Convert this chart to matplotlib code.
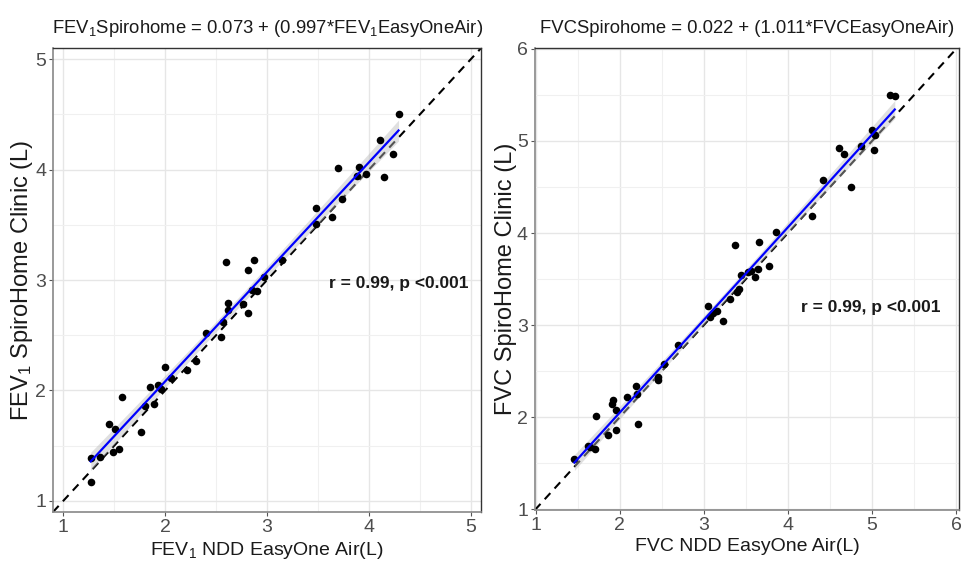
import numpy as np
import matplotlib
matplotlib.use("Agg")
import matplotlib.pyplot as plt
from matplotlib.ticker import MultipleLocator

plt.rcParams['font.family'] = ['Liberation Sans', 'DejaVu Sans']
plt.rcParams['mathtext.default'] = 'regular'

# ---- data: FEV1 ----
fev1_easyone = [1.27, 1.27, 1.36, 1.45, 1.51, 1.49, 1.55, 1.58, 1.76, 1.80, 1.85, 1.89,
                1.93, 1.96, 2.00, 2.06, 2.21, 2.30, 2.40, 2.55, 2.57, 2.60, 2.62, 2.62,
                2.76, 2.81, 2.81, 2.87, 2.85, 2.90, 2.97, 3.15, 3.48, 3.48, 3.64, 3.70,
                3.74, 3.90, 3.88, 3.97, 4.11, 4.15, 4.24, 4.29]
fev1_spirohome = [1.17, 1.39, 1.40, 1.70, 1.65, 1.44, 1.47, 1.94, 1.62, 1.86, 2.03, 1.88,
                  2.05, 2.01, 2.21, 2.11, 2.19, 2.27, 2.52, 2.48, 2.62, 3.16, 2.79, 2.73,
                  2.78, 2.70, 3.09, 3.18, 2.91, 2.90, 3.03, 3.18, 3.65, 3.51, 3.57, 4.01,
                  3.73, 4.02, 3.94, 3.96, 4.27, 3.93, 4.14, 4.50]

# ---- data: FVC ----
fvc_easyone = [1.46, 1.62, 1.65, 1.70, 1.72, 1.86, 1.91, 1.92, 1.95, 1.95, 2.09, 2.19,
               2.20, 2.22, 2.45, 2.46, 2.52, 2.69, 3.05, 3.07, 3.11, 3.15, 3.23, 3.31,
               3.39, 3.42, 3.37, 3.44, 3.52, 3.56, 3.61, 3.64, 3.66, 3.77, 3.86, 4.29,
               4.42, 4.61, 4.67, 4.75, 4.87, 5.00, 5.04, 5.02, 5.21, 5.27]
fvc_spirohome = [1.54, 1.69, 1.67, 1.65, 2.01, 1.81, 2.14, 2.19, 2.08, 1.86, 2.22, 2.34,
                 2.25, 1.92, 2.43, 2.40, 2.58, 2.78, 3.21, 3.09, 3.13, 3.15, 3.04, 3.28,
                 3.36, 3.39, 3.87, 3.54, 3.58, 3.59, 3.52, 3.61, 3.90, 3.64, 4.01, 4.18,
                 4.58, 4.92, 4.86, 4.50, 4.94, 5.12, 5.07, 4.90, 5.50, 5.49]

titles = ['FEV$_1$Spirohome = 0.073 + (0.997*FEV$_1$EasyOneAir)',
          'FVCSpirohome = 0.022 + (1.011*FVCEasyOneAir)']
xlabels = ['FEV$_1$ NDD EasyOne Air(L)', 'FVC NDD EasyOne Air(L)']
ylabels = ['FEV$_1$ SpiroHome Clinic (L)', 'FVC SpiroHome Clinic (L)']
annot = 'r = 0.99, p <0.001'

fig = plt.figure(figsize=(9.62, 5.63), dpi=100)
ax1 = fig.add_axes([0.0551, 0.0906, 0.445, 0.824])
ax2 = fig.add_axes([0.556, 0.0941, 0.441, 0.8206])

specs = [
    (ax1, fev1_easyone, fev1_spirohome, (0.9, 5.1), (0.9, 5.1), (4.29, 2.97)),
    (ax2, fvc_easyone, fvc_spirohome, (0.99, 6.035), (0.99, 6.01), (4.99, 3.19)),
]

for i, (ax, xs, ys, xl, yl, tpos) in enumerate(specs):
    x = np.asarray(xs); y = np.asarray(ys)
    ax.set_xlim(*xl); ax.set_ylim(*yl)
    ax.xaxis.set_major_locator(MultipleLocator(1))
    ax.yaxis.set_major_locator(MultipleLocator(1))
    ax.xaxis.set_minor_locator(MultipleLocator(0.5))
    ax.yaxis.set_minor_locator(MultipleLocator(0.5))
    ax.grid(which='major', color='#e6e6e6', linewidth=1.0, zorder=0)
    ax.grid(which='minor', color='#f0f0f0', linewidth=0.8, zorder=0)
    ax.tick_params(which='minor', length=0)
    ax.tick_params(which='major', length=3, color='#555555', labelsize=14,
                   labelcolor='#4d4d4d', pad=2)
    ax.set_axisbelow(True)

    # identity line
    ax.axline((1, 1), slope=1, color='black', linestyle=(0, (4, 3)), linewidth=1.5, zorder=2)

    # regression with CI
    b, a = np.polyfit(x, y, 1)
    xx = np.linspace(x.min(), x.max(), 100)
    yy = a + b * xx
    n = len(x)
    resid = y - (a + b * x)
    s = np.sqrt(np.sum(resid ** 2) / (n - 2))
    se = s * np.sqrt(1 / n + (xx - x.mean()) ** 2 / np.sum((x - x.mean()) ** 2))
    ax.fill_between(xx, yy - 2.02 * se, yy + 2.02 * se, color='#bbbbbb', alpha=0.45,
                    linewidth=0, zorder=3)
    ax.scatter(x, y, s=30, color='black', zorder=4, linewidths=0)
    ax.plot(xx, yy, color='#0000ff', linewidth=1.6, zorder=5)

    ax.text(tpos[0], tpos[1], annot, ha='center', va='center', fontsize=12.5,
            fontweight='bold', color='#1a1a1a')

    ax.set_title(titles[i], fontsize=13.3, pad=11, color='#1a1a1a')
    ax.set_xlabel(xlabels[i], fontsize=14, labelpad=3, color='#1a1a1a')
    ax.set_ylabel(ylabels[i], fontsize=17, labelpad=0, color='#1a1a1a')

    for side in ['top', 'right']:
        ax.spines[side].set_color('#333333')
        ax.spines[side].set_linewidth(1.0)
    for side in ['left', 'bottom']:
        ax.spines[side].set_color('#888888')
        ax.spines[side].set_linewidth(1.2)

fig.savefig('out.png', dpi=100)
